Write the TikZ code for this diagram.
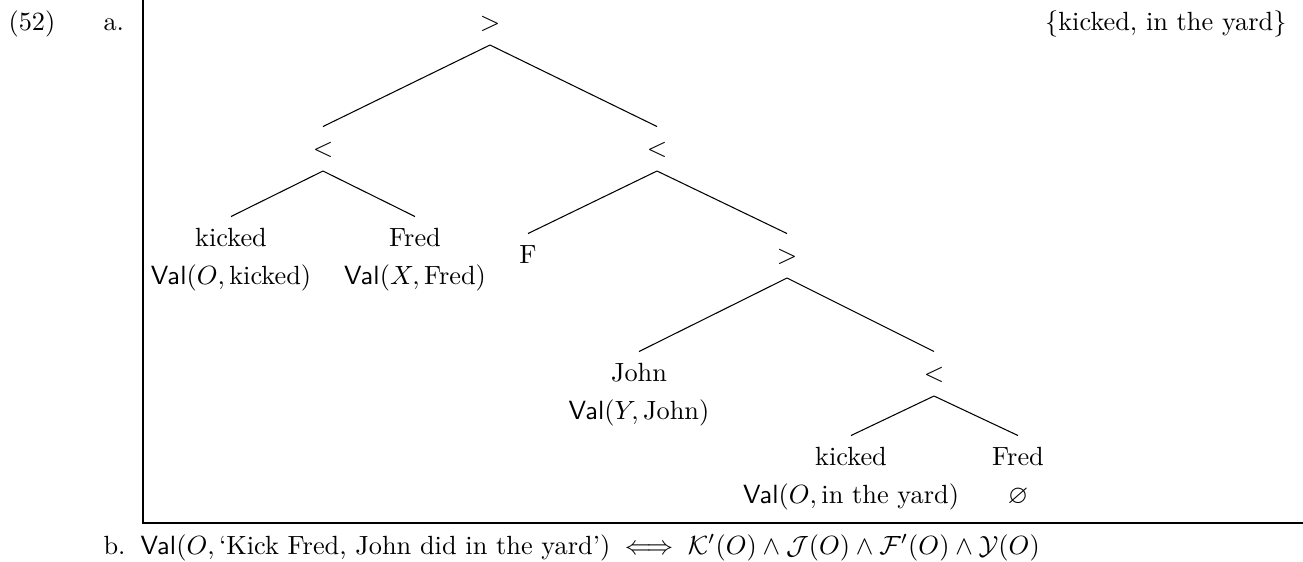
\documentclass[tikz,border=0pt]{standalone}
\usepackage{amsmath}
\usepackage{amssymb}
\usepackage{tikz}
\newcommand{\Val}{\mathsf{Val}}

\begin{document}
\begin{tikzpicture}[x=0.38pt,y=-0.38pt,
    cat/.style={anchor=base,inner sep=4pt,text height=7pt,text depth=1.5pt},
    val/.style={anchor=base,inner sep=0pt},
    txt/.style={inner sep=0pt}]
    \useasboundingbox (0,0) rectangle (1303,561);
    \node[txt,anchor=base west] (num) at (8,30) {(52)};
    \node[txt,anchor=base west] (ia) at (103,30) {a.};
    \node[txt,anchor=base east] (set) at (1287,30) {\{kicked, in the yard\}};
    \draw[line width=1pt] (143,0) -- (143,523) -- (1303,523);
    \node[cat] (r) at (490,30) {$>$};
    \node[cat] (l) at (323,156) {$<$};
    \node[cat] (rr) at (657,156) {$<$};
    \node[cat] (k1) at (231,246) {kicked};
    \node[cat] (f1) at (415,246) {Fred};
    \node[val] (vk1) at (231,284) {$\Val(O,\text{kicked})$};
    \node[val] (vf1) at (415,284) {$\Val(X,\text{Fred})$};
    \node[cat] (F) at (528,263) {F};
    \node[cat] (m) at (787,263) {$>$};
    \node[cat] (j) at (639,381) {John};
    \node[val] (vj) at (639,419) {$\Val(Y,\text{John})$};
    \node[cat] (n) at (934,381) {$<$};
    \node[cat] (k2) at (851,465) {kicked};
    \node[cat] (f2) at (1018,465) {Fred};
    \node[val] (vk2) at (851,503) {$\Val(O,\text{in the yard})$};
    \node[val] (vf2) at (1018,503) {$\varnothing$};
    \foreach \a/\b in {r/l,r/rr,l/k1,l/f1,rr/F,rr/m,m/j,m/n,n/k2,n/f2}
      \draw (\a.south) -- (\b.north);
    \node[txt,anchor=base west] (ib) at (103,554) {b.};
    \node[txt,anchor=base west] (eq) at (140,554) {$\Val(O,\text{`Kick Fred, John did in the yard'})\iff\mathcal{K}'(O)\land\mathcal{J}(O)\land\mathcal{F}'(O)\land\mathcal{Y}(O)$};
  \end{tikzpicture}
\end{document}
